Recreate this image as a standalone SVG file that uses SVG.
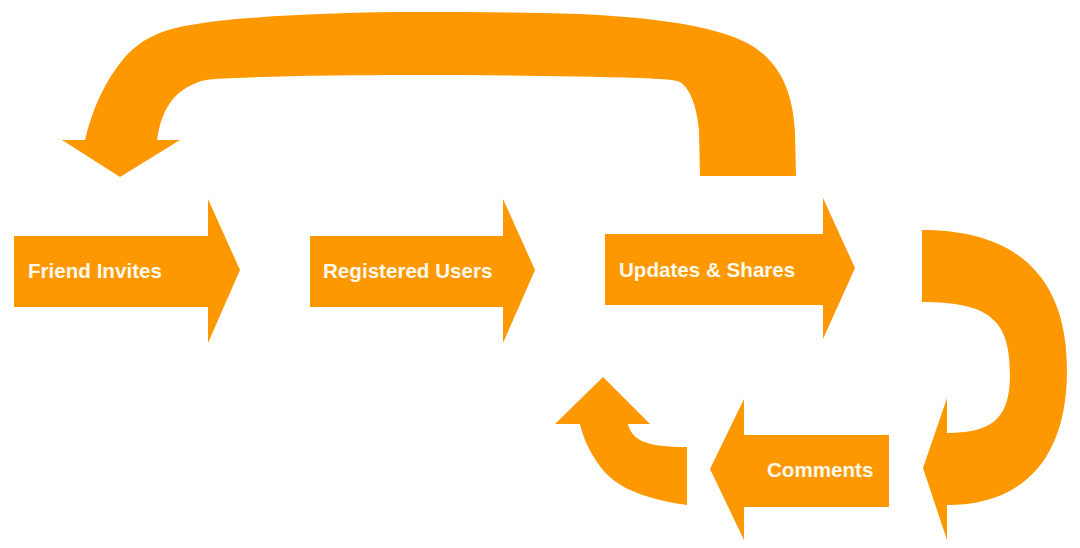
<svg xmlns="http://www.w3.org/2000/svg" width="1080" height="548" viewBox="0 0 1080 548">
<style>
.shape{fill:#FD9800;}
.lbl{fill:#FFF8EC;font-family:"Liberation Sans",Arial,sans-serif;font-weight:bold;font-size:20.6px;}
</style>
<rect width="1080" height="548" fill="#FFFFFF"/>
<g id="connectors">
<path id="loop-top" class="shape" d="M796,176 L795,133 C793,88 777,58 745,42 C712,26 660,18 580,14 C520,12 470,12 420,12 C360,12 300,14 250,18 C220,20 200,23 180,27 C160,31 140,40 125,57 C105,80 92,110 85,140 L62,140 L120,177 L180,140 L157,140 C160,118 168,100 183,90 C192,84 200,80 215,79 C300,74 500,74 640,78 C660,79 672,79 680,82 C692,90 697,110 699,130 L700,176 Z"/>
<path id="loop-right" class="shape" d="M922,230 C1000,230 1067,262 1067,370 C1067,462 1020,505 947,505 L947,540 L923,468 L947,398 L947,433 C990,433 1010,420 1010,375 C1010,322 992,302 922,302 Z"/>
<path id="loop-back" class="shape" d="M687,447 L687,505 C640,498 612,486 597,462 C587,447 583,436 580,424 L555,424 L603,377 L650,424 L628,424 C632,440 645,447 687,447 Z"/>
</g>
<g id="friend-invites">
<path class="shape" d="M14,236 L208,236 L208,199 L240,270 L208,343 L208,307 L14,307 Z"/>
<text class="lbl" x="28" y="278">Friend Invites</text>
</g>
<g id="registered-users">
<path class="shape" d="M310,236 L503,236 L503,199 L535,270 L503,343 L503,307 L310,307 Z"/>
<text class="lbl" x="323" y="278">Registered Users</text>
</g>
<g id="updates-shares">
<path class="shape" d="M605,234 L823,234 L823,198 L855,268 L823,339 L823,305 L605,305 Z"/>
<text class="lbl" x="619" y="277">Updates &amp; Shares</text>
</g>
<g id="comments">
<path class="shape" d="M889,435 L744,435 L744,399 L710,469 L744,540 L744,507 L889,507 Z"/>
<text class="lbl" x="767" y="477">Comments</text>
</g>
</svg>
